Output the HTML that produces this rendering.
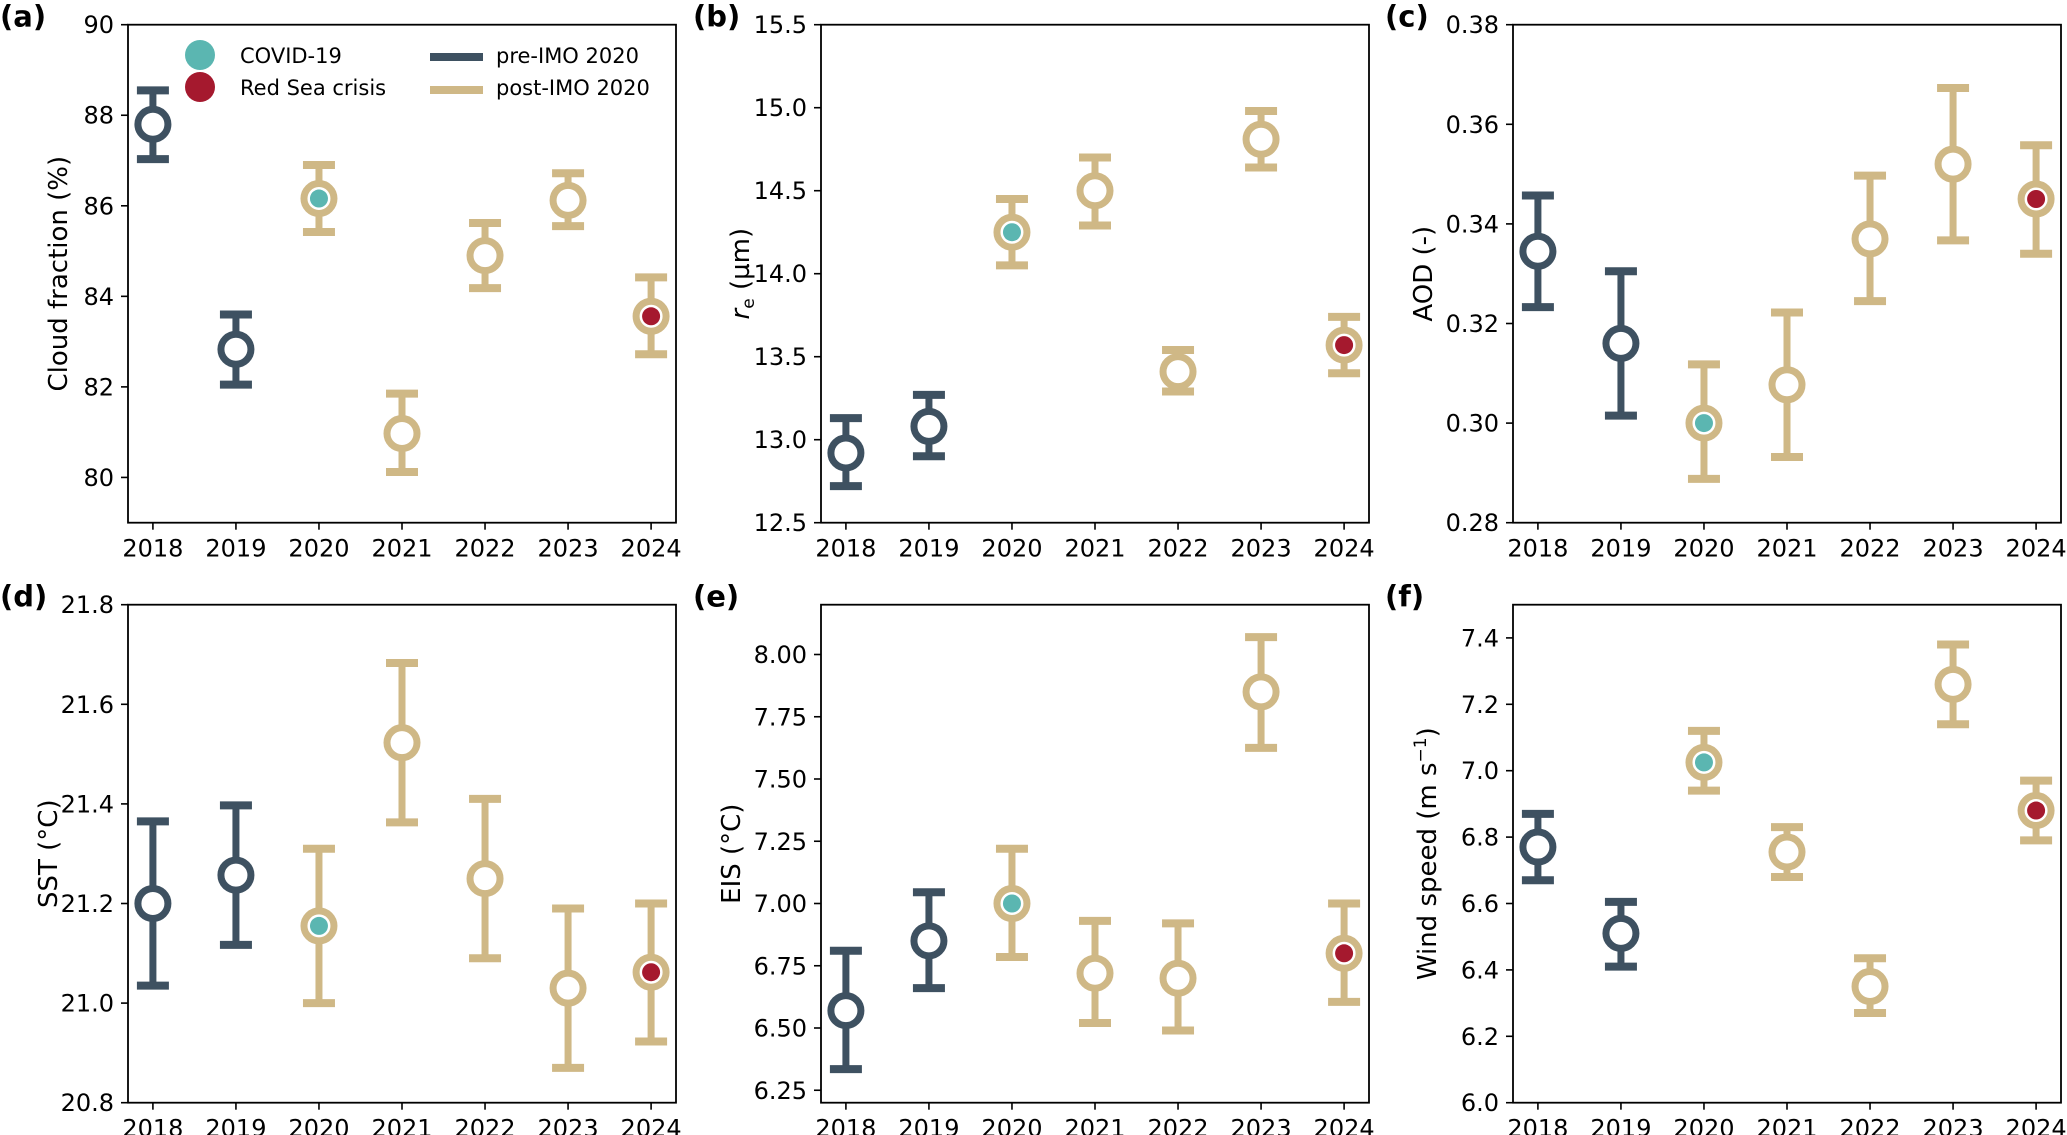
<!DOCTYPE html>
<html><head><meta charset="utf-8"><style>
html,body{margin:0;padding:0;background:#fff;}
svg{display:block;font-family:"DejaVu Sans","Liberation Sans",sans-serif;}
</style></head><body>
<svg id="fig" width="2067" height="1135" viewBox="0 0 2067 1135" xmlns="http://www.w3.org/2000/svg"></svg>
<script>
const years = [2018,2019,2020,2021,2022,2023,2024];
const cfVal = [87.8,82.83,86.16,80.97,84.9,86.12,83.56];
const cfLo  = [87.03,82.05,85.42,80.12,84.18,85.55,82.72];
const cfHi  = [88.55,83.6,86.9,81.85,85.62,86.72,84.42];
const reVal = [12.92,13.08,14.25,14.5,13.41,14.81,13.57];
const reLo  = [12.72,12.9,14.05,14.29,13.29,14.64,13.4];
const reHi  = [13.13,13.27,14.45,14.7,13.54,14.98,13.74];
const aodVal = [0.3345,0.316,0.300,0.3077,0.337,0.352,0.345];
const aodLo  = [0.3233,0.3015,0.2888,0.2932,0.3245,0.3367,0.334];
const aodHi  = [0.3457,0.3305,0.3118,0.3222,0.3497,0.3673,0.3558];
const sstVal = [21.2,21.257,21.155,21.523,21.25,21.03,21.062];
const sstLo  = [21.035,21.117,21.0,21.363,21.09,20.87,20.923];
const sstHi  = [21.365,21.397,21.31,21.683,21.41,21.19,21.2];
const eisVal = [6.57,6.85,7.0,6.72,6.7,7.85,6.8];
const eisLo  = [6.335,6.66,6.785,6.52,6.49,7.625,6.605];
const eisHi  = [6.81,7.045,7.22,6.93,6.92,8.07,7.0];
const wsVal = [6.77,6.51,7.025,6.755,6.35,7.26,6.88];
const wsLo  = [6.67,6.41,6.94,6.68,6.27,7.14,6.79];
const wsHi  = [6.87,6.605,7.12,6.83,6.435,7.38,6.97];
const cfTicks = [80,82,84,86,88,90];
const reTicks = [12.5,13.0,13.5,14.0,14.5,15.0,15.5];
const aodTicks = [0.28,0.30,0.32,0.34,0.36,0.38];
const sstTicks = [20.8,21.0,21.2,21.4,21.6,21.8];
const eisTicks = [6.25,6.50,6.75,7.00,7.25,7.50,7.75,8.00];
const wsTicks = [6.0,6.2,6.4,6.6,6.8,7.0,7.2,7.4];
const preIMO = [true,true,false,false,false,false,false];
const special = ['','','covid','','','','red'];

const NS="http://www.w3.org/2000/svg";
const svg=document.getElementById('fig');
const DARK='#3e5161', TAN='#cfb886', TEAL='#5bb6b1', RED='#a5192e';
function mk(tag,attrs,parent){const e=document.createElementNS(NS,tag);for(const k in attrs)e.setAttribute(k,attrs[k]);(parent||svg).appendChild(e);return e;}

const panels=[
 {id:'a',x0:128,y0:24.7,ymin:79,ymax:90,val:cfVal,lo:cfLo,hi:cfHi,ticks:cfTicks,dec:0,label:'Cloud fraction (%)',lo_:52},
 {id:'b',x0:821,y0:24.7,ymin:12.5,ymax:15.5,val:reVal,lo:reLo,hi:reHi,ticks:reTicks,dec:1,label:'re',lo_:63},
 {id:'c',x0:1513,y0:24.7,ymin:0.28,ymax:0.38,val:aodVal,lo:aodLo,hi:aodHi,ticks:aodTicks,dec:2,label:'AOD (-)',lo_:72},
 {id:'d',x0:128,y0:604.7,ymin:20.8,ymax:21.8,val:sstVal,lo:sstLo,hi:sstHi,ticks:sstTicks,dec:1,label:'SST (°C)',lo_:62},
 {id:'e',x0:821,y0:604.7,ymin:6.2,ymax:8.2,val:eisVal,lo:eisLo,hi:eisHi,ticks:eisTicks,dec:2,label:'EIS (°C)',lo_:72},
 {id:'f',x0:1513,y0:604.7,ymin:6.0,ymax:7.5,val:wsVal,lo:wsLo,hi:wsHi,ticks:wsTicks,dec:1,label:'ws',lo_:68}
];
const W=548,H=498;
panels.forEach(p=>{
  const g=mk('g',{});
  
  
  const xs=v=>p.x0+(v-2017.7)/(6.6)*W;
  const ys=v=>p.y0+H-(v-p.ymin)/(p.ymax-p.ymin)*H;
  const lt=mk('text',{x:p.x0-128,y:p.y0+2,'font-size':29,'font-weight':'bold',fill:'#000'},g);
  lt.textContent='('+p.id+')';
  
  
  p.ticks.forEach(t=>{
    const y=ys(t);
    mk('line',{x1:p.x0-7,x2:p.x0,y1:y,y2:y,stroke:'#000','stroke-width':1.6},g);
    const tx=mk('text',{x:p.x0-14,y:y+8.5,'font-size':24,'text-anchor':'end',fill:'#000'},g);
    tx.textContent=t.toFixed(p.dec);
    
    
  });
  years.forEach(yr=>{
    const x=xs(yr);
    mk('line',{x1:x,x2:x,y1:p.y0+H,y2:p.y0+H+7,stroke:'#000','stroke-width':1.6},g);
    const tx=mk('text',{x:x,y:p.y0+H+34,'font-size':24,'text-anchor':'middle',fill:'#000'},g);
    tx.textContent=yr;
    
    
  });
  const cy=p.y0+H/2, lx=p.x0-p.lo_-9;
  const yl=mk('text',{x:lx,y:cy,'font-size':26,'text-anchor':'middle',fill:'#000',transform:`rotate(-90 ${lx} ${cy})`},g);
  
  
  if(p.label==='re'){
    yl.innerHTML='<tspan font-style="italic">r</tspan><tspan font-size="17" dy="5">e</tspan><tspan dy="-5"> (µm)</tspan>';
  } else if(p.label==='ws'){
    yl.innerHTML='Wind speed (m s<tspan font-size="17" dy="-10">−1</tspan><tspan dy="10">)</tspan>';
  } else yl.textContent=p.label;
  years.forEach((yr,i)=>{
    const x=xs(yr), col=preIMO[i]?DARK:TAN;
    const m=mk('g',{},g);
    
    
    mk('line',{x1:x,x2:x,y1:ys(p.lo[i]),y2:ys(p.hi[i]),stroke:col,'stroke-width':7},m);
    mk('line',{x1:x-16,x2:x+16,y1:ys(p.lo[i]),y2:ys(p.lo[i]),stroke:col,'stroke-width':8},m);
    mk('line',{x1:x-16,x2:x+16,y1:ys(p.hi[i]),y2:ys(p.hi[i]),stroke:col,'stroke-width':8},m);
    mk('circle',{cx:x,cy:ys(p.val[i]),r:15,fill:'#fff',stroke:col,'stroke-width':7},m);
    if(special[i]) mk('circle',{cx:x,cy:ys(p.val[i]),r:9,fill:special[i]==='covid'?TEAL:RED},m);
  });
  const fr=mk('rect',{x:p.x0,y:p.y0,width:W,height:H,fill:'none',stroke:'#000','stroke-width':1.8},g);
  
  
});
const lg=mk('g',{});


mk('circle',{cx:200,cy:55,r:15,fill:TEAL},lg);
mk('circle',{cx:200,cy:87,r:15,fill:RED},lg);
mk('line',{x1:430,x2:483,y1:57,y2:57,stroke:DARK,'stroke-width':8},lg);
mk('line',{x1:430,x2:483,y1:90,y2:90,stroke:TAN,'stroke-width':8},lg);
[['COVID-19',240,63],['Red Sea crisis',240,95],['pre-IMO 2020',496,63],['post-IMO 2020',496,95]].forEach(d=>{
  const t=mk('text',{x:d[1],y:d[2],'font-size':21,fill:'#000'},lg);
  t.textContent=d[0];
  
  
});
</script>
</body></html>
